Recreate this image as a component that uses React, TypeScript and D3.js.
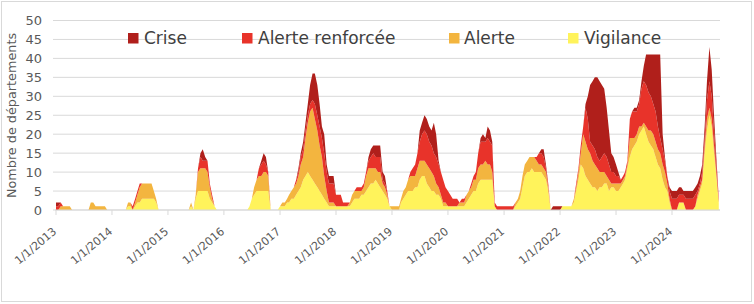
import React from 'react';
import * as d3 from 'd3';

// Half-month periods (1st and 16th of each month), Jan 2013 -> Nov 2024
const categories = ['Crise', 'Alerte renforcée', 'Alerte', 'Vigilance'];
const colors = ['#B01F1B', '#E8332A', '#F3B53F', '#FFF35B'];
const yTicks = [0, 5, 10, 15, 20, 25, 30, 35, 40, 45, 50];
const yearTicks = [2013, 2014, 2015, 2016, 2017, 2018, 2019, 2020, 2021, 2022, 2023, 2024];
const yAxisTitle = 'Nombre de départements';

const vigilance = [
  [0,0,0,0,0,0,0,0,0,0,0,0,0,0,0,0,0,0,0,0,0,0,0,0],
  [0,0,0,0,0,0,0,1,1,0,1,2,2,3,3,3,3,3,3,2,0,0,0,0],
  [0,0,0,0,0,0,0,0,0,0,1,0,3,5,5,5,5,5,3,2,1,0,0,0],
  [0,0,0,0,0,0,0,0,0,0,0,1,3,4,5,5,5,5,5,5,0,0,0,0],
  [1,1,1,2,2,3,3,4,5,6,8,9,10,9,8,7,6,5,4,3,2,1,1,1],
  [1,1,1,1,1,1,1,2,3,3,3,4,4,5,6,7,7,8,7,6,5,4,3,1],
  [0,0,0,0,2,3,4,5,5,5,6,6,8,9,9,7,6,5,5,4,4,3,1,1],
  [1,1,1,1,1,1,1,1,2,3,4,5,5,7,8,8,8,8,8,8,1,0,0,0],
  [0,0,0,0,0,1,2,3,6,9,10,10,11,10,10,10,10,9,8,5,0,0,0,0],
  [0,1,1,1,1,1,2,5,8,12,11,9,8,7,6,6,5,6,6,7,7,5,6,6],
  [5,5,6,7,8,11,14,16,17,18,20,21,22,20,18,17,16,14,12,11,8,6,5,2],
  [0,0,0,2,2,2,0,0,0,0,1,3,5,7,15,21,25,22,15,9,2],
];
const alerte = [
  [0,0,1,1,1,1,1,0,0,0,0,0,0,0,0,2,2,1,1,1,1,1,0,0],
  [0,0,0,0,0,0,0,1,1,0,1,2,4,4,4,4,4,4,2,1,0,0,0,0],
  [0,0,0,0,0,0,0,0,0,0,1,0,1,5,6,6,6,5,3,1,0,0,0,0],
  [0,0,0,0,0,0,0,0,0,0,0,0,0,2,3,4,4,5,5,4,0,0,0,0],
  [0,1,1,1,2,2,3,3,4,6,6,10,13,17,19,17,15,12,10,6,3,1,1,1],
  [0,0,0,0,0,0,1,2,2,2,2,1,2,4,5,4,4,3,3,4,2,2,1,0],
  [1,1,1,1,1,2,2,3,4,4,3,5,5,4,4,5,5,5,4,3,2,1,1,1],
  [0,0,0,0,0,1,1,1,2,2,2,3,3,4,4,4,5,4,4,2,0,0,0,0],
  [0,0,0,0,0,1,1,2,3,3,3,4,3,4,3,2,2,2,2,1,0,0,0,0],
  [0,0,0,0,0,0,1,1,2,3,9,9,8,8,7,6,6,4,4,3,2,3,1,1],
  [2,2,1,1,1,1,5,3,2,2,2,1,1,2,3,4,4,4,4,4,4,4,2,1],
  [0,0,0,0,0,0,0,0,0,0,0,1,1,1,2,3,2,2,2,1,0],
];
const alerteRenforcee = [
  [1,1,1,0,0,0,0,0,0,0,0,0,0,0,0,0,0,0,0,0,0,0,0,0],
  [0,0,0,0,0,0,0,0,0,1,1,1,1,0,0,0,0,0,0,0,0,0,0,0],
  [0,0,0,0,0,0,0,0,0,0,0,0,0,1,3,2,2,3,1,1,0,0,0,0],
  [0,0,0,0,0,0,0,0,0,0,0,0,0,0,0,2,3,3,2,1,0,0,0,0],
  [0,0,0,0,0,0,0,1,1,2,2,2,2,2,2,4,4,5,5,6,5,5,5,5],
  [3,3,3,1,1,1,0,0,0,1,1,1,1,1,2,3,4,3,4,4,1,1,1,0],
  [0,0,0,0,0,0,0,0,1,2,3,4,5,7,8,8,7,7,6,7,6,6,6,4],
  [4,3,2,2,2,0,1,1,0,0,1,1,2,4,6,6,5,7,6,7,1,1,1,1],
  [1,1,1,1,1,0,0,0,0,0,0,0,0,0,1,3,3,3,1,1,0,0,0,0],
  [0,0,0,0,0,0,0,1,1,2,2,9,8,3,4,4,3,3,4,5,5,4,3,3],
  [2,2,1,1,1,1,5,7,7,6,6,10,11,11,10,9,8,8,6,4,4,3,2,2],
  [3,3,3,2,2,2,3,3,3,3,3,1,1,2,2,5,7,6,4,2,1],
];
const crise = [
  [1,1,0,0,0,0,0,0,0,0,0,0,0,0,0,0,0,0,0,0,0,0,0,0],
  [0,0,0,0,0,0,0,0,0,0,0,0,0,0,0,0,0,0,0,0,0,0,0,0],
  [0,0,0,0,0,0,0,0,0,0,0,0,0,0,1,3,1,0,0,0,0,0,0,0],
  [0,0,0,0,0,0,0,0,0,0,0,0,0,0,0,0,1,2,2,0,0,0,0,0],
  [0,0,0,0,0,0,0,0,1,1,2,2,3,5,7,8,8,6,3,5,2,2,2,2],
  [0,0,0,0,0,0,0,0,0,0,0,0,0,0,1,2,2,3,3,3,2,2,0,0],
  [0,0,0,0,0,0,0,0,0,0,0,0,3,3,4,4,4,4,8,6,1,0,0,0],
  [0,0,0,0,0,0,0,0,0,0,0,0,0,0,1,2,1,3,3,1,0,0,0,0],
  [0,0,0,0,0,0,0,0,0,0,0,0,0,0,0,0,1,2,1,0,0,1,1,1],
  [1,0,0,0,0,0,0,0,0,0,0,1,6,15,17,19,21,21,19,17,13,9,5,4],
  [3,1,0,0,0,0,0,0,1,1,1,2,4,8,10,11,13,15,19,22,4,1,0,1],
  [2,2,2,2,2,1,2,2,2,2,2,2,2,2,3,5,9,7,4,2,0],
];

const W = 754;
const H = 304;
const FONT = "'DejaVu Sans', sans-serif";

export default function App() {
  const v = vigilance.flat();
  const a = alerte.flat();
  const r = alerteRenforcee.flat();
  const c = crise.flat();
  const rows = v.map((_, k) => ({
    date: new Date(2013 + Math.floor(k / 24), Math.floor((k % 24) / 2), k % 2 ? 16 : 1),
    vigilance: v[k],
    alerte: a[k],
    renforcee: r[k],
    crise: c[k],
  }));
  const keys = ['vigilance', 'alerte', 'renforcee', 'crise'];
  const keyColor: Record<string, string> = {
    crise: colors[0], renforcee: colors[1], alerte: colors[2], vigilance: colors[3],
  };
  const stacked = d3.stack<any>().keys(keys)(rows);

  const x = d3.scaleTime()
    .domain([new Date(2013, 0, 1), new Date(2024, 0, 1)])
    .range([56, 672]);
  const y = d3.scaleLinear().domain([0, 50]).range([210, 20.5]);

  const area = d3.area<any>()
    .x((d) => x(d.data.date))
    .y0((d) => y(d[0]))
    .y1((d) => y(d[1]))
    .curve(d3.curveLinear);

  const gridX0 = 53;
  const gridX1 = 720;

  const legendItems = [
    { label: categories[0], color: colors[0], sx: 128, tx: 144 },
    { label: categories[1], color: colors[1], sx: 242, tx: 258 },
    { label: categories[2], color: colors[2], sx: 449, tx: 464 },
    { label: categories[3], color: colors[3], sx: 568, tx: 584 },
  ];

  return (
    <svg width={W} height={H} style={{ position: 'absolute', left: 0, top: 0, background: '#fff' }}
      xmlns="http://www.w3.org/2000/svg">
      <rect x={0} y={0} width={W} height={H} fill="#fff" />
      <rect x={1.5} y={1.5} width={750} height={300} fill="none" stroke="#d9d9d9" strokeWidth={1} />
      {yTicks.map((t) => (
        <line key={'g' + t} x1={gridX0} x2={gridX1} y1={y(t)} y2={y(t)} stroke="#d9d9d9" strokeWidth={1} />
      ))}
      {stacked.map((s) => (
        <path key={s.key} d={area(s as any) || ''} fill={keyColor[s.key]} stroke="none" />
      ))}
      <line x1={55} x2={gridX1} y1={210} y2={210} stroke="#d9d9d9" strokeWidth={1} />
      {yearTicks.map((yr) => {
        const tx = x(new Date(yr, 0, 1));
        return (
          <g key={'t' + yr}>
            <line x1={tx} x2={tx} y1={210} y2={215} stroke="#d9d9d9" strokeWidth={1} />
            <text
              transform={`translate(${tx + 1.2},232.7) rotate(-40)`}
              textAnchor="end"
              fontFamily={FONT}
              fontSize={11.2}
              fill="#595959"
            >{`1/1/${yr}`}</text>
          </g>
        );
      })}
      {yTicks.map((t) => (
        <text key={'yl' + t} x={42} y={y(t) + 4.7} textAnchor="end" fontFamily={FONT} fontSize={13} fill="#595959">
          {t}
        </text>
      ))}
      <text
        transform="translate(16,115.5) rotate(-90)"
        textAnchor="middle"
        fontFamily={FONT}
        fontSize={12.8}
        fill="#595959"
      >{yAxisTitle}</text>
      {legendItems.map((it) => (
        <g key={it.label}>
          <rect x={it.sx} y={33} width={10.5} height={10.5} fill={it.color} />
          <text x={it.tx} y={43.5} fontFamily={FONT} fontSize={17} fill="#404040">{it.label}</text>
        </g>
      ))}
    </svg>
  );
}
